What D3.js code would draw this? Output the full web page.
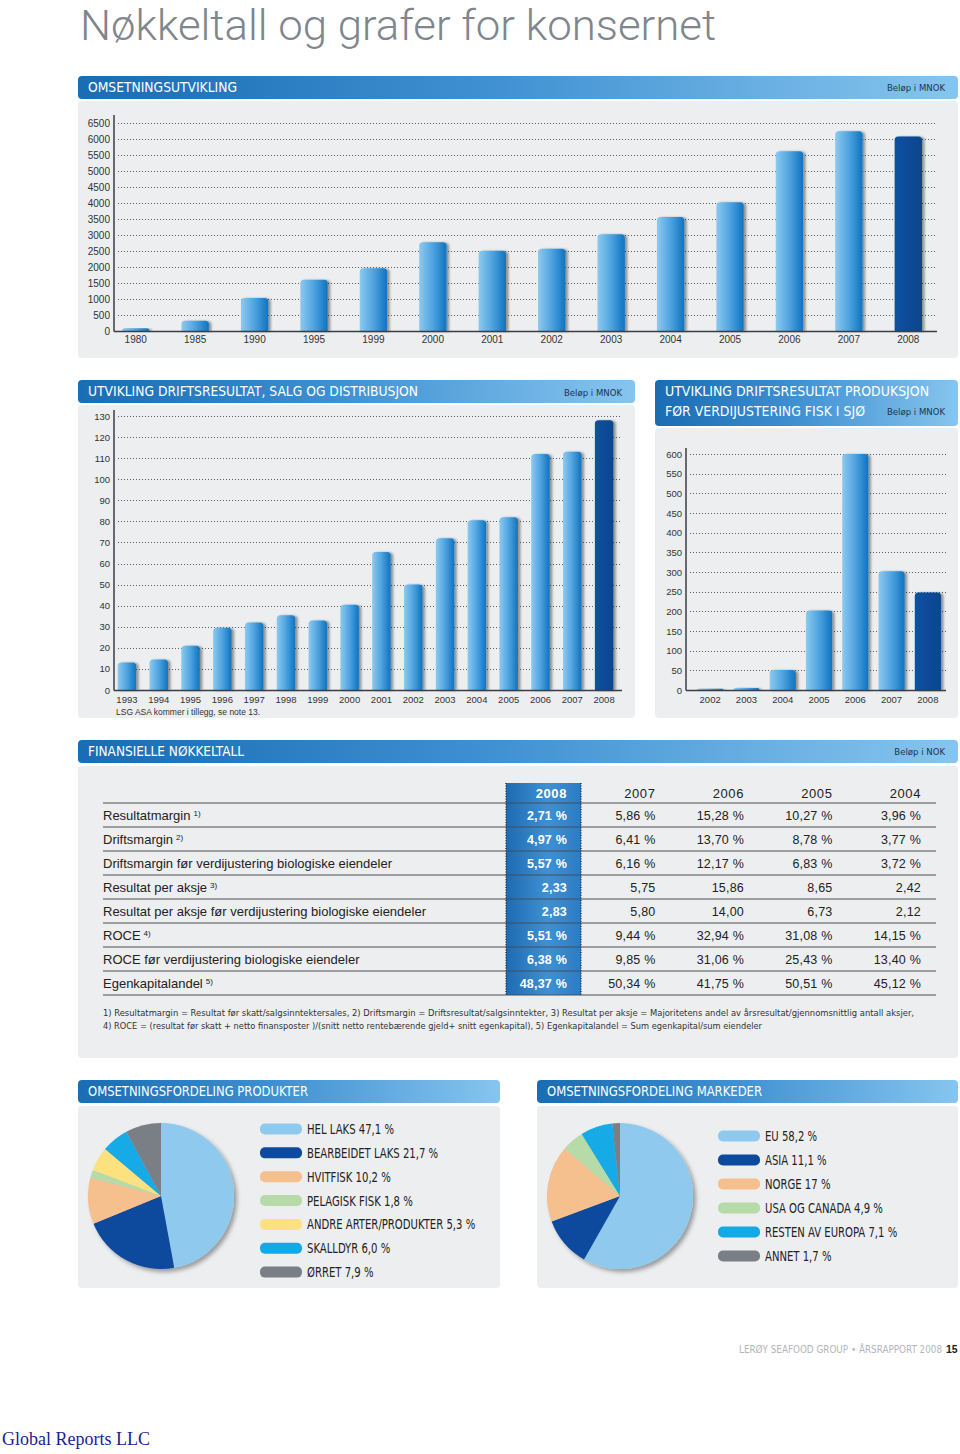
<!DOCTYPE html>
<html><head><meta charset="utf-8">
<script src="https://cdn.jsdelivr.net/npm/d3@7"></script>
<style>
html,body{margin:0;padding:0;background:#fff;}
svg{display:block;}
</style></head>
<body>
<svg id="page" width="960" height="1454"></svg>
<script>
// ---------- DATA ----------
const revYears = ["1980","1985","1990","1995","1999","2000","2001","2002","2003","2004","2005","2006","2007","2008"];
const revValues = [85, 320, 1030, 1600, 1960, 2770, 2510, 2570, 3020, 3560, 4020, 5620, 6240, 6080];
const revTicks = d3.range(0, 6501, 500);

const opYears = ["1993","1994","1995","1996","1997","1998","1999","2000","2001","2002","2003","2004","2005","2006","2007","2008"];
const opValues = [13, 14.5, 21, 29.5, 32, 35.5, 33, 40.5, 65.5, 50, 72, 80.5, 82, 112, 113, 128];
const opTicks = d3.range(0, 131, 10);

const prodYears = ["2002","2003","2004","2005","2006","2007","2008"];
const prodValues = [3, 5, 51, 202, 600, 302, 248];
const prodTicks = d3.range(0, 601, 50);

const tableYears = ["2008","2007","2006","2005","2004"];
const rowLabels = ["Resultatmargin","Driftsmargin","Driftsmargin før verdijustering biologiske eiendeler","Resultat per aksje","Resultat per aksje før verdijustering biologiske eiendeler","ROCE","ROCE før verdijustering biologiske eiendeler","Egenkapitalandel"];
const rowNotes = ["1)","2)","","3)","","4)","","5)"];
const values2008 = ["2,71 %","4,97 %","5,57 %","2,33","2,83","5,51 %","6,38 %","48,37 %"];
const values2007 = ["5,86 %","6,41 %","6,16 %","5,75","5,80","9,44 %","9,85 %","50,34 %"];
const values2006 = ["15,28 %","13,70 %","12,17 %","15,86","14,00","32,94 %","31,06 %","41,75 %"];
const values2005 = ["10,27 %","8,78 %","6,83 %","8,65","6,73","31,08 %","25,43 %","50,51 %"];
const values2004 = ["3,96 %","3,77 %","3,72 %","2,42","2,12","14,15 %","13,40 %","45,12 %"];
const footnotes = [
  "1) Resultatmargin = Resultat før skatt/salgsinntektersales, 2) Driftsmargin = Driftsresultat/salgsinntekter, 3) Resultat per aksje = Majoritetens andel av årsresultat/gjennomsnittlig antall aksjer,",
  "4) ROCE = (resultat før skatt + netto finansposter )/(snitt netto rentebærende gjeld+ snitt egenkapital), 5) Egenkapitalandel = Sum egenkapital/sum eiendeler"
];

const productLabels = ["HEL LAKS","BEARBEIDET LAKS","HVITFISK","PELAGISK FISK","ANDRE ARTER/PRODUKTER","SKALLDYR","ØRRET"];
const productShares = ["47,1","21,7","10,2","1,8","5,3","6,0","7,9"];
const marketLabels = ["EU","ASIA","NORGE","USA OG CANADA","RESTEN AV EUROPA","ANNET"];
const marketShares = ["58,2","11,1","17","4,9","7,1","1,7"];

// ---------- STYLE ----------
const SANS = "'Liberation Sans', Arial, sans-serif";
const COND = "'Liberation Sans Narrow','DejaVu Sans Condensed','Roboto',sans-serif";
const productColors = ["#8fcaee","#0b4a9c","#f6bf8e","#b7dba8","#fbe27e","#12aae6","#7a7e85"];
const marketColors = ["#8fcaee","#0b4a9c","#f6bf8e","#b7dba8","#12aae6","#7a7e85"];

const svg = d3.select("#page");
svg.append("rect").attr("width",960).attr("height",1454).attr("fill","#fff");
const defs = svg.append("defs");

function lin(id, stops, vertical){
  const g = defs.append("linearGradient").attr("id",id)
    .attr("x1",0).attr("y1",0).attr("x2",vertical?0:1).attr("y2",vertical?1:0);
  stops.forEach(s=>g.append("stop").attr("offset",s[0]).attr("stop-color",s[1]));
}
lin("hdrGrad",[[0,"#1a6cb3"],[0.45,"#3d8fd1"],[1,"#86c5ee"]]);
lin("barGrad",[[0,"#8ccaf0"],[0.5,"#4ea3df"],[1,"#0f73c0"]]);
lin("barDark",[[0,"#0d52a3"],[1,"#07448c"]]);
lin("colGrad",[[0,"#1c6bb3"],[0.55,"#3f90d3"],[1,"#2b7cc4"]]);

const sh = defs.append("filter").attr("id","shadow").attr("x","-20%").attr("y","-10%").attr("width","160%").attr("height","130%");
sh.append("feDropShadow").attr("dx",2.5).attr("dy",0.5).attr("stdDeviation",1.3).attr("flood-color","#000").attr("flood-opacity",0.4);
const psh = defs.append("filter").attr("id","pieShadow").attr("x","-20%").attr("y","-20%").attr("width","150%").attr("height","150%");
psh.append("feDropShadow").attr("dx",3).attr("dy",3).attr("stdDeviation",2).attr("flood-color","#000").attr("flood-opacity",0.35);

function squeeze(sel, f){
  sel.each(function(){
    const w = this.getComputedTextLength();
    d3.select(this).attr("textLength", w*f).attr("lengthAdjust","spacingAndGlyphs");
  });
}

// ---------- TITLE ----------
svg.append("text").attr("x",80).attr("y",40)
  .attr("font-family","Roboto,'Open Sans',sans-serif").attr("font-weight",300)
  .attr("font-size",43).attr("fill","#80868d")
  .attr("textLength",636).attr("lengthAdjust","spacingAndGlyphs")
  .text("Nøkkeltall og grafer for konsernet");

// ---------- helpers ----------
function panel(x,y,w,h){
  svg.append("rect").attr("x",x).attr("y",y).attr("width",w).attr("height",h).attr("rx",4).attr("fill","#eceef0");
}
function header(x,y,w,h,lines,unit,unitY){
  svg.append("rect").attr("x",x).attr("y",y).attr("width",w).attr("height",h).attr("rx",4).attr("fill","url(#hdrGrad)");
  lines.forEach(l=>{
    svg.append("text").attr("x",x+10).attr("y",l.y).attr("font-family",COND).attr("font-weight","normal")
      .attr("font-size",14.5).attr("fill","#fff")
      .attr("textLength",l.w).attr("lengthAdjust","spacingAndGlyphs").text(l.t);
  });
  if(unit){
    svg.append("text").attr("x",x+w-13).attr("y",unitY).attr("text-anchor","end")
      .attr("font-family",COND).attr("font-size",9.5).attr("fill","#1b3552").text(unit);
  }
}
function topRounded(x,y,w,h,r){
  r = Math.max(0, Math.min(r,h,w/2));
  return `M${x},${y+h}V${y+r}Q${x},${y} ${x+r},${y}H${x+w-r}Q${x+w},${y} ${x+w},${y+r}V${y+h}Z`;
}
function barChart(c){
  const g = svg.append("g");
  const y = d3.scaleLinear().domain([0,c.yMax]).range([c.y0,c.y1]);
  const x = d3.scaleBand().domain(c.cats).range(c.band).paddingInner(c.pad).paddingOuter(c.pad/2);
  g.selectAll("line.grid").data(c.ticks.filter(t=>t>0)).join("line")
    .attr("x1",c.axisX+4).attr("x2",c.xEnd).attr("y1",d=>Math.round(y(d))+0.5).attr("y2",d=>Math.round(y(d))+0.5)
    .attr("stroke","#5a5f66").attr("stroke-width",1).attr("stroke-dasharray","1,2");
  g.selectAll("path.bar").data(c.values).join("path")
    .attr("d",(d,i)=>topRounded(x(c.cats[i]), y(d), x.bandwidth(), c.y0-y(d), 3.5))
    .attr("fill",(d,i)=> i===c.values.length-1 ? "url(#barDark)" : "url(#barGrad)")
    .attr("filter","url(#shadow)");
  const ya = g.append("g").attr("transform",`translate(${c.axisX},0)`)
    .call(d3.axisLeft(y).tickValues(c.ticks).tickSize(0).tickPadding(4).tickFormat(d3.format("d")));
  ya.select(".domain").remove();
  ya.selectAll("text").attr("font-family",SANS).attr("font-size",c.fs).attr("fill","#333");
  const xa = g.append("g").attr("transform",`translate(0,${c.y0})`)
    .call(d3.axisBottom(x).tickSize(0).tickPadding(c.xpad));
  xa.select(".domain").remove();
  xa.selectAll("text").attr("font-family",SANS).attr("font-size",c.fs).attr("fill","#333");
  g.append("line").attr("x1",c.axisX).attr("x2",c.axisX).attr("y1",c.yTop).attr("y2",c.y0+0.5).attr("stroke","#3a3d42").attr("stroke-width",1.5);
  g.append("line").attr("x1",c.axisX).attr("x2",c.xEnd).attr("y1",c.y0+0.5).attr("y2",c.y0+0.5).attr("stroke","#3a3d42").attr("stroke-width",1.5);
}

// ---------- CHART 1 ----------
panel(78,101,880,257);
header(78,76,880,23,[{t:"OMSETNINGSUTVIKLING",y:92,w:149}],"Beløp i MNOK",91);
barChart({cats:revYears, values:revValues, ticks:revTicks, yMax:6500, y0:331, y1:123, yTop:115,
  axisX:114, xEnd:937, band:[106,938], pad:0.54, fs:10, xpad:5});

// ---------- CHART 2 ----------
panel(78,405,557,313);
header(78,380,557,23,[{t:"UTVIKLING DRIFTSRESULTAT, SALG OG DISTRIBUSJON",y:396,w:330}],"Beløp i MNOK",396);
barChart({cats:opYears, values:opValues, ticks:opTicks, yMax:130, y0:690, y1:416, yTop:410,
  axisX:114, xEnd:622, band:[111,620], pad:0.42, fs:9.5, xpad:6});
svg.append("text").attr("x",116).attr("y",715).attr("font-family",SANS).attr("font-size",8.5).attr("fill","#333")
  .text("LSG ASA kommer i tillegg, se note 13.");

// ---------- CHART 3 ----------
panel(655,428,303,290);
header(655,380,303,46,[{t:"UTVIKLING DRIFTSRESULTAT PRODUKSJON",y:396,w:264},{t:"FØR VERDIJUSTERING FISK I SJØ",y:416,w:200}],"Beløp i MNOK",415);
barChart({cats:prodYears, values:prodValues, ticks:prodTicks, yMax:600, y0:690, y1:454, yTop:448,
  axisX:686, xEnd:946, band:[692,946], pad:0.28, fs:9.5, xpad:6});

// ---------- TABLE ----------
panel(78,766,880,292);
header(78,740,880,23,[{t:"FINANSIELLE NØKKELTALL",y:756,w:156}],"Beløp i NOK",755);

const colRight = d3.scalePoint().domain(tableYears).range([567,921]);
const rowY = d3.scaleBand().domain(d3.range(rowLabels.length)).range([803,995]);
const tg = svg.append("g");
tg.append("rect").attr("x",506).attr("y",783).attr("width",75).attr("height",212).attr("fill","url(#colGrad)");
[506,581].forEach(xx=>tg.append("line").attr("x1",xx).attr("x2",xx).attr("y1",783).attr("y2",995)
  .attr("stroke","#152a45").attr("stroke-width",1.3).attr("stroke-dasharray","1,1.6"));
tg.selectAll("text.yr").data(tableYears).join("text")
  .attr("x",d=>colRight(d)).attr("y",798).attr("text-anchor","end")
  .attr("font-family",SANS).attr("font-size",13).attr("letter-spacing",0.6)
  .attr("font-weight",(d,i)=>i===0?"bold":"normal").attr("fill",(d,i)=>i===0?"#fff":"#222").text(d=>d);
tg.selectAll("line.row").data(d3.range(rowLabels.length+1)).join("line")
  .attr("x1",103).attr("x2",936).attr("y1",i=>803+i*rowY.step()).attr("y2",i=>803+i*rowY.step())
  .attr("stroke","#4a4d52").attr("stroke-width",1.2);
const lab = tg.selectAll("text.lab").data(rowLabels).join("text")
  .attr("x",103).attr("y",(d,i)=>rowY(i)+17).attr("font-family",SANS).attr("font-size",13).attr("fill","#222");
lab.append("tspan").text(d=>d);
lab.append("tspan").attr("dx",3).attr("dy",-4).attr("font-size",8).text((d,i)=>rowNotes[i]);
const cols = [values2008,values2007,values2006,values2005,values2004];
cols.forEach((vals,ci)=>{
  tg.selectAll(null).data(vals).join("text")
    .attr("x",colRight(tableYears[ci])).attr("y",(d,i)=>rowY(i)+17).attr("text-anchor","end")
    .attr("font-family",SANS).attr("font-size",12.5).attr("letter-spacing",0.2)
    .attr("font-weight",ci===0?"bold":"normal").attr("fill",ci===0?"#fff":"#222").text(d=>d);
});
svg.append("text").attr("x",103).attr("y",1016).attr("font-family",COND).attr("font-size",9).attr("fill","#333")
  .attr("textLength",811).attr("lengthAdjust","spacingAndGlyphs").text(footnotes[0]);
svg.append("text").attr("x",103).attr("y",1029).attr("font-family",COND).attr("font-size",9).attr("fill","#333")
  .attr("textLength",659).attr("lengthAdjust","spacingAndGlyphs").text(footnotes[1]);

// ---------- PIES ----------
function pieBlock(cx,cy,labels,shares,colors,lx,ly0,step){
  const vals = shares.map(s=>+s.replace(",","."));
  const pie = d3.pie().sort(null).value(d=>d)(vals);
  const arc = d3.arc().innerRadius(0).outerRadius(73);
  const g = svg.append("g").attr("transform",`translate(${cx},${cy})`).attr("filter","url(#pieShadow)");
  g.selectAll("path").data(pie).join("path").attr("d",arc).attr("fill",(d,i)=>colors[i]);
  const lg = svg.append("g");
  lg.selectAll("rect").data(labels).join("rect")
    .attr("x",lx).attr("y",(d,i)=>ly0+i*step-5.5).attr("width",42).attr("height",11).attr("rx",5)
    .attr("fill",(d,i)=>colors[i]);
  const t = lg.selectAll("text").data(labels).join("text")
    .attr("x",lx+47).attr("y",(d,i)=>ly0+i*step+5).attr("font-family",COND).attr("font-size",13.5)
    .attr("fill","#222").text((d,i)=>`${d} ${shares[i]} %`);
  squeeze(t, 0.83);
}
panel(78,1106,422,182);
header(78,1080,422,23,[{t:"OMSETNINGSFORDELING PRODUKTER",y:1096,w:220}]);
pieBlock(161,1196,productLabels,productShares,productColors,260,1129,23.85);

panel(537,1106,421,182);
header(537,1080,421,23,[{t:"OMSETNINGSFORDELING MARKEDER",y:1096,w:215}]);
pieBlock(620,1196,marketLabels,marketShares,marketColors,718,1136,24);

// ---------- FOOTER ----------
svg.append("text").attr("x",942).attr("y",1353).attr("text-anchor","end").attr("font-family",COND)
  .attr("font-size",9.8).attr("fill","#b3b7bc")
  .text("LERØY SEAFOOD GROUP • ÅRSRAPPORT 2008");
svg.append("text").attr("x",946).attr("y",1353).attr("font-family",SANS).attr("font-weight","bold")
  .attr("font-size",10.5).attr("fill","#222").text("15");
svg.append("text").attr("x",2).attr("y",1445).attr("font-family","'Liberation Serif','Times New Roman',serif")
  .attr("font-size",18).attr("fill","#1c1c94").text("Global Reports LLC");
</script>
</body></html>
